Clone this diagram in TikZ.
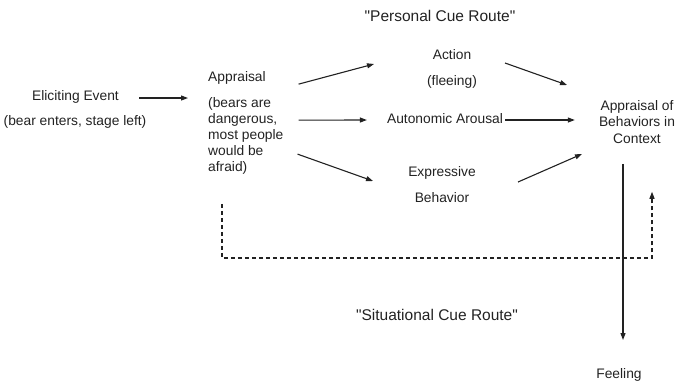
\documentclass[tikz,border=0pt]{standalone}
\usepackage{fontspec}
% a family without the TeX ligature mapping keeps the straight " quotes
\newfontfamily\diagfont{Liberation Sans}
\usetikzlibrary{arrows.meta,calc}

\definecolor{ink}{HTML}{222222}

\tikzset{
  lbl/.style={inner sep=0pt, text=ink, font=\diagfont\fontsize{13.8}{16}\selectfont},
  routelbl/.style={inner sep=0pt, text=ink, font=\diagfont\fontsize{15.5}{18}\selectfont},
  arr/.style={draw=ink, line width=1.1pt, -{Triangle[length=7pt,width=5pt]}},
  dashline/.style={draw=ink, line width=1.1pt, dash pattern=on 4pt off 3pt,
    -{Triangle[length=7pt,width=5pt]}}
}

\begin{document}
\begin{tikzpicture}[x=1pt,y=-1pt]
  \useasboundingbox (0,0) rectangle (676,384);

  % labels
  \node[routelbl] (personal) at (440,16) {"Personal Cue Route"};
  \node[routelbl] (situational) at (437,315) {"Situational Cue Route"};

  \node[lbl] (elicit) at (75.5,97) {Eliciting Event};
  \node[lbl] (elicitsub) at (75,122) {(bear enters, stage left)};

  \node[lbl, align=left, anchor=north west] (appr) at (208,71.5)
    {Appraisal\\[10pt](bears are\\dangerous,\\most people\\would be\\afraid)};

  \node[lbl] (action) at (452,55) {Action};
  \node[lbl] (fleeing) at (452,82) {(fleeing)};
  \node[lbl] (auto) at (445,119) {Autonomic Arousal};
  \node[lbl] (expr) at (442,173) {Expressive};
  \node[lbl] (behav) at (442,198) {Behavior};

  \node[lbl, align=center, font=\diagfont\fontsize{13.8}{16.5}\selectfont] (abc) at (637,122)
    {Appraisal of\\Behaviors in\\Context};

  \node[lbl] (feeling) at (619,375) {Feeling};

  % connectors
  \draw[arr] ($(elicit.east)+(20,1)$) -- ($(elicit.east -| appr.west)+(-20,1)$);

  \draw[arr] ($(appr.east)+(15,-39)$) -- ($(action)+(-78,9)$);
  \draw[arr] ($(appr.east)+(15,-3)$) -- ($(auto.west)+(-20,1)$);
  \draw[arr] ($(appr.east)+(14,31)$) -- ($(expr)+(-69,8)$);

  \draw[arr] ($(action)+(53,8)$) -- ($(abc)+(-70,-37)$);
  \draw[arr] ($(auto.east)+(2,1)$) -- ($(abc.west)+(-24,-2)$);
  \draw[arr] ($(expr)+(76,9)$) -- ($(abc)+(-55,32)$);

  \draw[arr] ($(abc.south)+(-14,20)$) -- ($(feeling)+(4,-35)$);

  % situational cue loop
  \coordinate (loopstart) at ($(appr.south west)+(14,29)$);
  \coordinate (loopend) at ($(abc.south)+(15,48)$);
  \draw[dashline] (loopstart) -- (loopstart |- 0,258) -| (loopend);
\end{tikzpicture}
\end{document}
